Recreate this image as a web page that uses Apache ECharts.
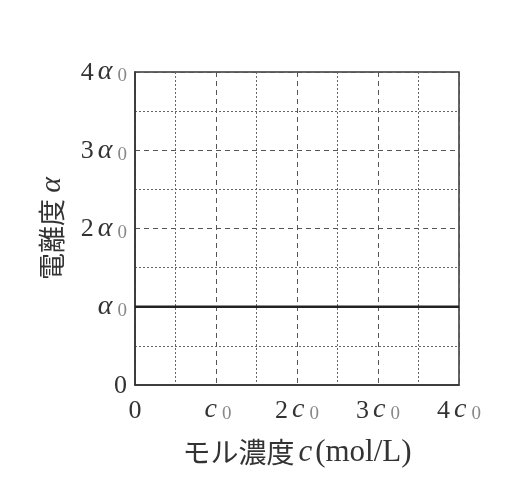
<!DOCTYPE html>
<html><head><meta charset="utf-8">
<script src="https://cdn.jsdelivr.net/npm/echarts@6/dist/echarts.min.js"></script>
<style>html,body{margin:0;padding:0;background:#fff}#c{width:527px;height:493px}</style>
</head><body><div id="c"></div>
<script>
var xTickValues = [0, 1, 2, 3, 4];
var xTickLabels = ['{n|0}', '{v|c}{s|0}', '{n|2}{v|c}{s|0}', '{n|3}{v|c}{s|0}', '{n|4}{v|c}{s|0}'];
var yTickValues = [0, 1, 2, 3, 4];
var yTickLabels = ['{n|0}', '{v|α}{s|0}', '{n|2}{v|α}{s|0}', '{n|3}{v|α}{s|0}', '{n|4}{v|α}{s|0}'];
var seriesX = [0, 4];
var seriesY = [1, 1];

var serif = '"Liberation Serif","DejaVu Serif",serif';
var rich = {
  n: {fontFamily: serif, fontSize: 26, color: '#333', lineHeight: 28, verticalAlign: 'bottom'},
  v: {fontFamily: serif, fontStyle: 'italic', fontSize: 28, color: '#333', lineHeight: 28, verticalAlign: 'bottom', padding: [0, 0, 0, 4]},
  s: {fontFamily: serif, fontSize: 19, color: '#888', lineHeight: 28, verticalAlign: 'bottom', padding: [0, 0, 0, 5]}
};
function fmt(vals, labels) {
  return function (v) { var i = vals.indexOf(v); return i >= 0 ? labels[i] : ''; };
}
var chart = echarts.init(document.getElementById('c'));
chart.setOption({
  animation: false,
  grid: {left: 135, right: 68, top: 72, bottom: 108, show: true, borderColor: '#333', borderWidth: 1.5, backgroundColor: 'transparent'},
  xAxis: {
    type: 'value', min: 0, max: 4, interval: 1,
    axisLine: {show: true, lineStyle: {color: '#333', width: 1.5}},
    axisTick: {show: false},
    minorTick: {show: false, splitNumber: 2},
    splitLine: {show: true, lineStyle: {color: '#555', type: [5, 4], width: 1}},
    minorSplitLine: {show: true, lineStyle: {color: '#666', type: [2, 2], width: 1}},
    axisLabel: {margin: 11, formatter: fmt(xTickValues, xTickLabels), rich: rich},
    name: '{j|モル濃度}{v|c}{p|(mol/L)}',
    nameLocation: 'middle', nameGap: 52,
    nameTextStyle: {rich: {
      j: {fontFamily: '"Noto Sans CJK JP"', fontSize: 28, color: '#333'},
      v: {fontFamily: serif, fontStyle: 'italic', fontSize: 31, color: '#333', padding: [0, 3, 0, 4]},
      p: {fontFamily: serif, fontSize: 31, color: '#333'}
    }}
  },
  yAxis: {
    type: 'value', min: 0, max: 4, interval: 1,
    axisLine: {show: true, lineStyle: {color: '#333', width: 1.5}},
    axisTick: {show: false},
    minorTick: {show: false, splitNumber: 2},
    splitLine: {show: true, lineStyle: {color: '#555', type: [5, 4], width: 1}},
    minorSplitLine: {show: true, lineStyle: {color: '#666', type: [2, 2], width: 1}},
    axisLabel: {margin: 8, formatter: fmt(yTickValues, yTickLabels), rich: rich},
    name: '{j|電離度 }{v|α}',
    nameLocation: 'middle', nameGap: 68, nameRotate: 90,
    nameTextStyle: {rich: {
      j: {fontFamily: '"Noto Sans CJK JP"', fontSize: 27, color: '#333'},
      v: {fontFamily: serif, fontStyle: 'italic', fontSize: 30, color: '#333'}
    }}
  },
  series: [{
    type: 'line', showSymbol: false, symbol: 'none',
    data: seriesX.map(function (x, i) { return [x, seriesY[i]]; }),
    lineStyle: {color: '#222', width: 2.4}
  }]
});
</script></body></html>
